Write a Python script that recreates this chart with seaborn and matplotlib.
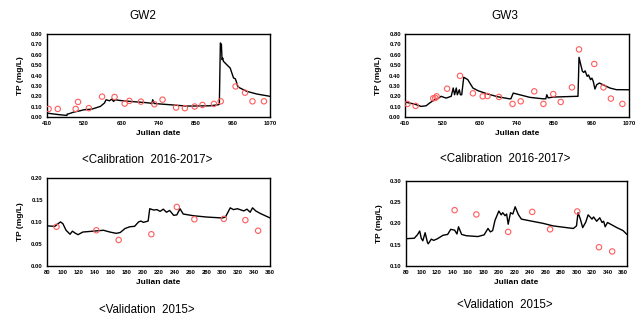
import numpy as np
import pandas as pd
import matplotlib.pyplot as plt
import seaborn as sns
from matplotlib.ticker import FormatStrFormatter

sns.set_style("white")
plt.rcParams['font.family'] = ['Liberation Sans', 'DejaVu Sans']
plt.rcParams['text.color'] = 'black'
plt.rcParams['axes.labelcolor'] = 'black'
plt.rcParams['xtick.color'] = 'black'
plt.rcParams['ytick.color'] = 'black'

# ---- calibration 2016-2017, GW2 ----
gw2_cal_day = [410, 425, 445, 469, 470, 473, 489, 508, 518, 543, 568, 580, 585, 595, 602, 607, 612, 626,
               660, 700, 715, 720, 723, 727, 774, 824, 893, 917, 920, 923, 926, 928, 930, 932, 942, 952,
               957, 962, 967, 970, 974, 981, 1001, 1031, 1070]
gw2_cal_sim = [0.039, 0.032, 0.024, 0.016, 0.030, 0.030, 0.048, 0.061, 0.070, 0.077, 0.103, 0.135, 0.167,
               0.157, 0.173, 0.151, 0.167, 0.160, 0.150, 0.140, 0.135, 0.128, 0.167, 0.131, 0.119, 0.106,
               0.109, 0.119, 0.125, 0.713, 0.700, 0.553, 0.568, 0.537, 0.504, 0.472, 0.424, 0.376, 0.370,
               0.344, 0.296, 0.280, 0.248, 0.222, 0.200]
gw2_cal_obs_day = [415, 442, 495, 502, 534, 573, 610, 640, 654, 688, 728, 752, 792, 818, 847, 870, 904,
                   924, 968, 996, 1018, 1052]
gw2_cal_obs = [0.079, 0.079, 0.079, 0.146, 0.086, 0.197, 0.194, 0.130, 0.156, 0.149, 0.124, 0.168, 0.092,
               0.086, 0.102, 0.117, 0.127, 0.152, 0.295, 0.235, 0.152, 0.152]

# ---- calibration 2016-2017, GW3 ----
gw3_cal_day = [410, 438, 457, 472, 482, 497, 506, 516, 531, 546, 552, 556, 561, 564, 570, 573, 577, 583,
               587, 595, 610, 625, 654, 683, 718, 722, 729, 778, 817, 825, 828, 832, 847, 916, 920, 923,
               927, 933, 937, 941, 947, 951, 957, 961, 965, 970, 975, 983, 994, 1014, 1033, 1070]
gw3_cal_sim = [0.145, 0.125, 0.103, 0.109, 0.135, 0.167, 0.176, 0.200, 0.183, 0.200, 0.280, 0.215, 0.280,
               0.215, 0.263, 0.215, 0.215, 0.383, 0.376, 0.360, 0.280, 0.254, 0.222, 0.196, 0.176, 0.176,
               0.231, 0.190, 0.176, 0.176, 0.215, 0.185, 0.193, 0.200, 0.200, 0.575, 0.520, 0.440, 0.430,
               0.445, 0.392, 0.405, 0.360, 0.375, 0.344, 0.270, 0.311, 0.328, 0.311, 0.280, 0.264, 0.263]
gw3_cal_obs_day = [417, 441, 493, 499, 503, 534, 572, 610, 639, 653, 687, 727, 751, 791, 818, 847, 869,
                   902, 923, 968, 995, 1017, 1051]
gw3_cal_obs = [0.127, 0.108, 0.181, 0.185, 0.200, 0.273, 0.397, 0.229, 0.200, 0.203, 0.194, 0.127, 0.152,
               0.248, 0.127, 0.222, 0.146, 0.286, 0.651, 0.511, 0.286, 0.178, 0.127]

# ---- validation 2015, GW2 ----
gw2_val_day = [80, 90, 94, 97, 100, 104, 109, 112, 115, 119, 125, 138, 151, 159, 167, 172, 178, 184, 190,
               195, 198, 201, 207, 209, 214, 218, 222, 226, 230, 234, 239, 243, 247, 251, 264, 281, 300,
               304, 310, 314, 319, 327, 331, 335, 338, 342, 348, 360]
gw2_val_sim = [0.091, 0.090, 0.096, 0.100, 0.096, 0.081, 0.072, 0.079, 0.075, 0.071, 0.077, 0.079, 0.081,
               0.077, 0.074, 0.076, 0.085, 0.089, 0.090, 0.100, 0.102, 0.099, 0.102, 0.130, 0.127, 0.128,
               0.124, 0.129, 0.122, 0.126, 0.115, 0.116, 0.130, 0.118, 0.114, 0.111, 0.109, 0.111, 0.132,
               0.128, 0.130, 0.125, 0.129, 0.122, 0.132, 0.125, 0.119, 0.109]
gw2_val_obs_day = [92, 142, 170, 211, 243, 265, 302, 329, 345]
gw2_val_obs = [0.089, 0.081, 0.059, 0.072, 0.134, 0.106, 0.107, 0.104, 0.080]

# ---- validation 2015, GW3 ----
gw3_val_day = [80, 91, 95, 98, 100, 102, 105, 108, 109, 113, 116, 121, 128, 134, 138, 143, 146, 148, 152,
               158, 173, 181, 186, 189, 192, 195, 200, 203, 205, 208, 210, 212, 215, 218, 221, 225, 229,
               240, 257, 270, 287, 296, 300, 302, 305, 308, 312, 315, 320, 322, 326, 330, 333, 335, 337,
               340, 346, 352, 360, 365]
gw3_val_sim = [0.164, 0.165, 0.173, 0.182, 0.165, 0.159, 0.178, 0.155, 0.152, 0.163, 0.160, 0.164, 0.172,
               0.174, 0.186, 0.184, 0.175, 0.192, 0.174, 0.171, 0.169, 0.173, 0.188, 0.180, 0.183, 0.207,
               0.229, 0.220, 0.225, 0.218, 0.222, 0.198, 0.225, 0.222, 0.239, 0.221, 0.210, 0.206, 0.200,
               0.194, 0.190, 0.188, 0.194, 0.225, 0.210, 0.190, 0.203, 0.220, 0.210, 0.215, 0.205, 0.213,
               0.202, 0.205, 0.192, 0.202, 0.196, 0.190, 0.183, 0.174]
gw3_val_obs_day = [143, 171, 212, 243, 266, 301, 329, 346]
gw3_val_obs = [0.231, 0.221, 0.180, 0.227, 0.186, 0.228, 0.144, 0.134]

panels = [
    dict(rect=[0.073, 0.634, 0.347, 0.260], day=gw2_cal_day, sim=gw2_cal_sim,
         oday=gw2_cal_obs_day, obs=gw2_cal_obs, xlim=(410, 1070), xt=[410, 520, 630, 740, 850, 960, 1070],
         ylim=(0, 0.8), yt=np.arange(0, 0.81, 0.1)),
    dict(rect=[0.630, 0.634, 0.348, 0.260], day=gw3_cal_day, sim=gw3_cal_sim,
         oday=gw3_cal_obs_day, obs=gw3_cal_obs, xlim=(410, 1070), xt=[410, 520, 630, 740, 850, 960, 1070],
         ylim=(0, 0.8), yt=np.arange(0, 0.81, 0.1)),
    dict(rect=[0.073, 0.169, 0.347, 0.275], day=gw2_val_day, sim=gw2_val_sim,
         oday=gw2_val_obs_day, obs=gw2_val_obs, xlim=(80, 360), xt=range(80, 361, 20),
         ylim=(0, 0.2), yt=np.arange(0, 0.201, 0.05)),
    dict(rect=[0.631, 0.169, 0.344, 0.266], day=gw3_val_day, sim=gw3_val_sim,
         oday=gw3_val_obs_day, obs=gw3_val_obs, xlim=(80, 365), xt=range(80, 361, 20),
         ylim=(0.1, 0.3), yt=np.arange(0.1, 0.301, 0.05)),
]

fig = plt.figure(figsize=(6.43, 3.20), dpi=100)

for p in panels:
    ax = fig.add_axes(p['rect'])
    sns.lineplot(x=p['day'], y=p['sim'], ax=ax, color='black', linewidth=1.0,
                 estimator=None, sort=False)
    sns.scatterplot(x=p['oday'], y=p['obs'], ax=ax, marker='o', s=15,
                    facecolors='none', edgecolor='#ff5c5c', linewidth=0.8, zorder=3)
    ax.set_xlim(*p['xlim'])
    ax.set_ylim(*p['ylim'])
    ax.set_xticks(list(p['xt']))
    ax.set_yticks(p['yt'])
    ax.yaxis.set_major_formatter(FormatStrFormatter('%.2f'))
    ax.tick_params(labelsize=4.2, length=1.5, width=0.6, pad=1.5)
    for lab in ax.get_xticklabels() + ax.get_yticklabels():
        lab.set_fontweight('bold')
    ax.set_xlabel('Julian date', fontsize=6, fontweight='bold', labelpad=3)
    ax.set_ylabel('TP (mg/L)', fontsize=6, fontweight='bold', labelpad=5)
    for s in ax.spines.values():
        s.set_color('black')
        s.set_linewidth(1.0)

fig.text(143 / 643, 1 - 16 / 320, 'GW2', ha='center', va='center', fontsize=8.5)
fig.text(505 / 643, 1 - 16 / 320, 'GW3', ha='center', va='center', fontsize=8.5)
fig.text(147 / 643, 1 - 160 / 320, '<Calibration  2016-2017>', ha='center', va='center', fontsize=8.3)
fig.text(505 / 643, 1 - 159 / 320, '<Calibration  2016-2017>', ha='center', va='center', fontsize=8.3)
fig.text(147 / 643, 1 - 310 / 320, '<Validation  2015>', ha='center', va='center', fontsize=8.3)
fig.text(505 / 643, 1 - 305 / 320, '<Validation  2015>', ha='center', va='center', fontsize=8.3)

fig.savefig('out.png', dpi=100)
plt.close()
